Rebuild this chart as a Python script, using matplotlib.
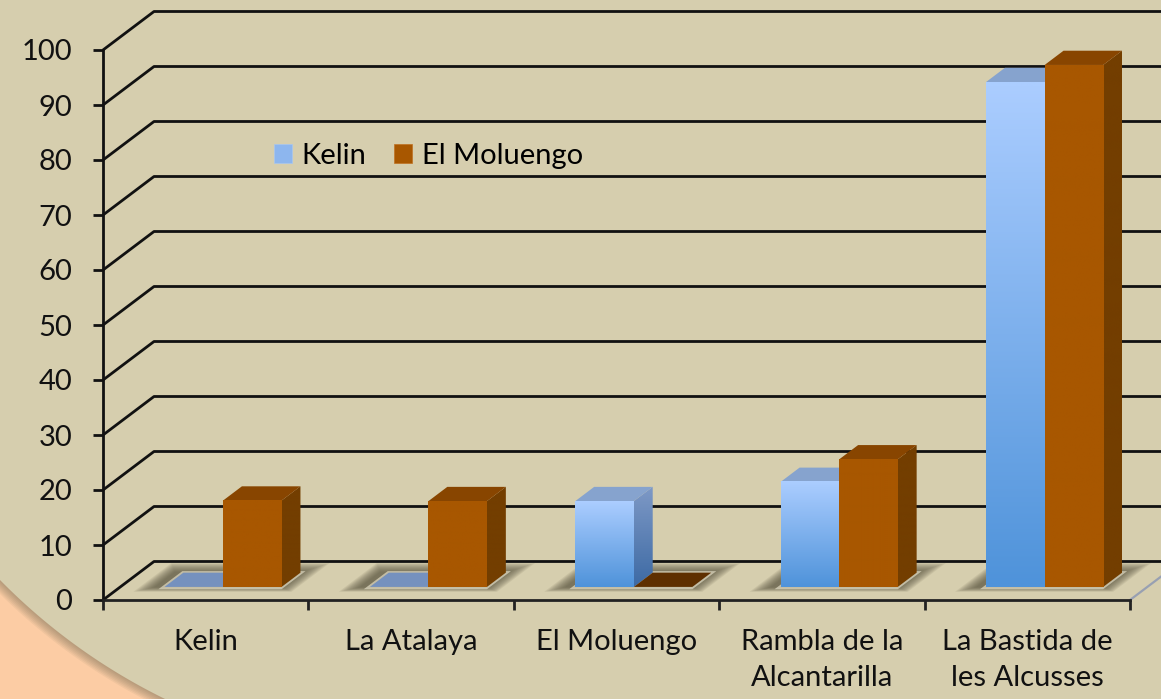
import numpy as np
import matplotlib
matplotlib.use('Agg')
import matplotlib.pyplot as plt
from matplotlib.patches import Polygon, Patch

plt.rcParams['font.family'] = ['Lato', 'DejaVu Sans']

# Data
categories = ['Kelin', 'La Atalaya', 'El Moluengo', 'Rambla de la\nAlcantarilla', 'La Bastida de\nles Alcusses']
series_names = ['Kelin', 'El Moluengo']
kelin_vals = [0, 0, 15.6, 19.1, 91.8]
moluengo_vals = [15.7, 15.6, 0, 23.2, 94.9]
y_ticks = list(range(0, 101, 10))

# Styles
beige = '#D6CEAE'
salmon = '#FCCCA4'
front_top = {'Kelin': '#ABCDFF', 'El Moluengo': '#A85700'}
front_bot = {'Kelin': '#4F93DA', 'El Moluengo': '#A85700'}
side_top = {'Kelin': '#7E99C6', 'El Moluengo': '#733E00'}
side_bot = {'Kelin': '#3D6AA4', 'El Moluengo': '#733E00'}
top_col = {'Kelin': '#86A3CE', 'El Moluengo': '#884500'}
flat_col = {'Kelin': '#7591BE', 'El Moluengo': '#5E2F00'}
fs = 21

W = 0.285          # bar width (category units)
DX, DY = 0.2483, 7.0   # depth offset of the back wall
D0, D1 = 0.34, 0.71    # bar depth span


def proj(x, v, d):
    return x + d * DX, v + d * DY


fig = plt.figure(figsize=(11.61, 6.99), dpi=100)

# background: beige panel with rounded bottom-left corner over salmon
bg = fig.add_axes([0, 0, 1, 1])
bg.set_xlim(0, 1161)
bg.set_ylim(699, 0)
bg.axis('off')
bg.add_patch(Polygon([(0, 0), (1161, 0), (1161, 699), (0, 699)], color=salmon, zorder=0))
cx, cy, R = 430.5, 156.9, 603.6
t0 = np.pi - np.arcsin((699 - cy) / R)
t1 = np.arccos(-cx / R)
t = np.linspace(t0 - 0.05, t1 + 0.05, 200)
arc = np.column_stack([cx + R * np.cos(t), cy + R * np.sin(t)])
panel = np.vstack([[[0, -50], [1211, -50], [1211, 760]], arc])
for k in range(7):
    sh = panel + np.array([-0.9 * (k + 1), 1.1 * (k + 1)])
    bg.add_patch(Polygon(sh, closed=True, color='#6b6650', alpha=0.08, lw=0, zorder=1))
bg.add_patch(Polygon(panel, closed=True, color=beige, lw=0, zorder=2))

# chart axes: x in categories, y in values
ax = fig.add_axes([103 / 1161, 99 / 699, 1027 / 1161, 550 / 699])
ax.patch.set_visible(False)
for s in ['top', 'right']:
    ax.spines[s].set_visible(False)
ax.spines['left'].set_linewidth(2)
ax.spines['bottom'].set_linewidth(2)
ax.spines['left'].set_color('#111111')
ax.spines['bottom'].set_color('#222222')

# back wall gridlines
for v in y_ticks:
    ax.plot([0, DX, len(categories) + DX + 0.3], [v, v + DY, v + DY],
            color='#111111', lw=2, clip_on=False, zorder=1, solid_capstyle='butt')
# right edge of floor
ax.plot([len(categories), len(categories) + DX], [0, DY], color='#98A0B2', lw=1.6, clip_on=False, zorder=1)

# shadows under each group
n = len(categories)
for i in range(n):
    xl, xr = i + 0.5 - W, i + 0.5 + W
    for k in range(10):
        e = 0.08 * (1 - k / 10)
        ed = 0.25 * (1 - k / 10)
        pts = [proj(xl - e - 0.04, 0, D0 - ed * 0.5), proj(xr + e, 0, D0 - ed * 0.5),
               proj(xr + e, 0, D1 + ed), proj(xl - e - 0.04, 0, D1 + ed)]
        ax.add_patch(Polygon(pts, closed=True, color='#4f4a36', alpha=0.1, lw=0, zorder=2, clip_on=False))
    pts = [proj(xl - 0.015, 0, D0 - 0.06), proj(xr + 0.015, 0, D0 - 0.06),
           proj(xr + 0.015, 0, D1 + 0.04), proj(xl - 0.015, 0, D1 + 0.04)]
    ax.add_patch(Polygon(pts, closed=True, color='#E2DCC4', alpha=0.7, lw=0, zorder=2, clip_on=False))


def vgrad(c_top, c_bot):
    a = np.array(matplotlib.colors.to_rgb(c_top))
    b = np.array(matplotlib.colors.to_rgb(c_bot))
    f = np.linspace(0, 1, 64)[:, None]
    return (a * (1 - f) + b * f)[:, None, :]


# bars
z = 3
for i in range(n):
    for s, (name, vals) in enumerate(zip(series_names, [kelin_vals, moluengo_vals])):
        v = vals[i]
        xl = i + 0.5 - W + s * W
        xr = xl + W
        if v == 0:
            pts = [proj(xl, 0, D0), proj(xr, 0, D0), proj(xr, 0, D1), proj(xl, 0, D1)]
            ax.add_patch(Polygon(pts, closed=True, color=flat_col[name], lw=0, zorder=z, clip_on=False))
            z += 1
            continue
        # side face
        side = Polygon([proj(xr, 0, D0), proj(xr, v, D0), proj(xr, v, D1), proj(xr, 0, D1)],
                       closed=True, facecolor='none', lw=0, zorder=z)
        ax.add_patch(side)
        sx0, sy0 = proj(xr, 0, D0)
        sx1, sy1 = proj(xr, v, D1)
        im = ax.imshow(vgrad(side_top[name], side_bot[name]), extent=[sx0, sx1, sy0, sy1],
                       aspect='auto', zorder=z, interpolation='bilinear')
        im.set_clip_path(side)
        # top face
        ax.add_patch(Polygon([proj(xl, v, D0), proj(xr, v, D0), proj(xr, v, D1), proj(xl, v, D1)],
                             closed=True, color=top_col[name], lw=0, zorder=z + 0.1, clip_on=False))
        # front face
        fx0, fy0 = proj(xl, 0, D0)
        fx1, fy1 = proj(xr, v, D0)
        ax.imshow(vgrad(front_top[name], front_bot[name]), extent=[fx0, fx1, fy0, fy1],
                  aspect='auto', zorder=z + 0.2, interpolation='bilinear')
        z += 1

ax.set_xlim(0, n)
ax.set_ylim(0, 100)

# ticks
ax.set_yticks(y_ticks)
ax.tick_params(axis='y', length=7, width=2, color='#111111', pad=15, labelsize=fs, labelcolor='#111111')
ax.set_xticks(range(n + 1))
ax.set_xticklabels([''] * (n + 1))
ax.tick_params(axis='x', which='major', length=7, width=2, color='#222222')
ax.set_xticks([i + 0.5 for i in range(n)], minor=True)
ax.set_xticklabels(categories, minor=True, fontsize=fs, color='#111111', linespacing=1.45)
ax.tick_params(axis='x', which='minor', length=0, pad=21)

# legend
handles = [Patch(facecolor='#8DB6EE', edgecolor='#a9c8f0', lw=0.5),
           Patch(facecolor='#A85700', edgecolor='#c07020', lw=0.5)]
ax.legend(handles, series_names, loc='center left', bbox_to_anchor=(274 / 1161, 1 - 156 / 699),
          bbox_transform=fig.transFigure, frameon=False, ncol=2, fontsize=fs, borderpad=0,
          borderaxespad=0, handlelength=0.6, handleheight=0.6, handletextpad=0.35, columnspacing=0.95)

fig.savefig('out.png', dpi=100)
